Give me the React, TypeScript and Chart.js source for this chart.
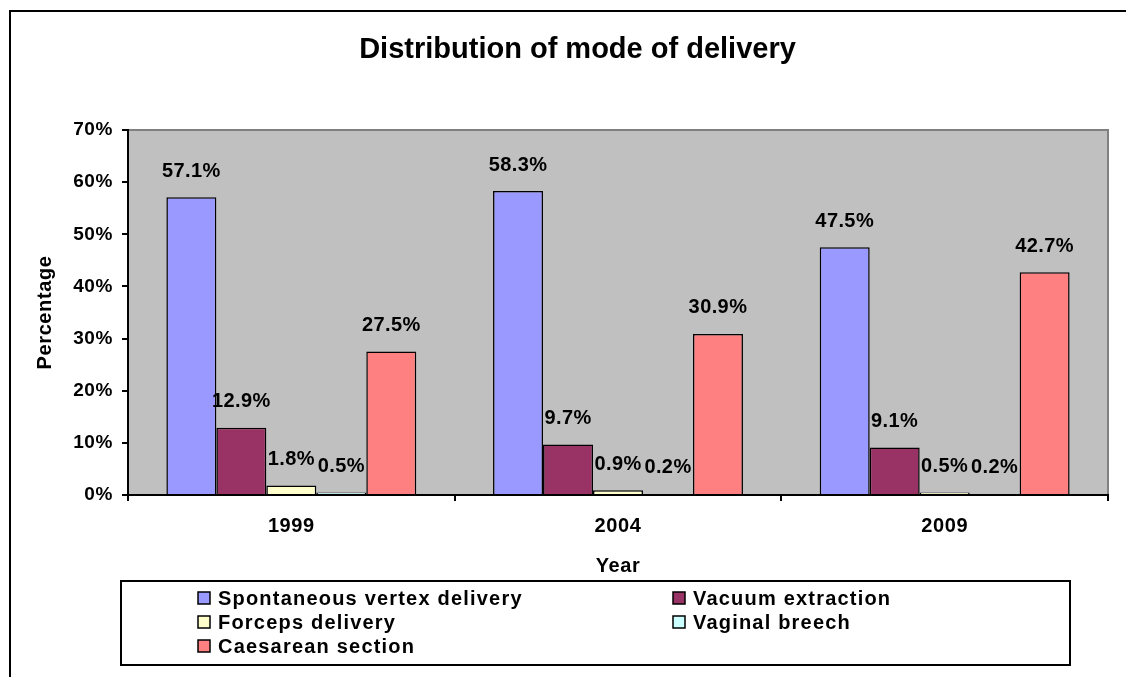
import React, { useEffect, useRef } from 'react';
import { Chart, registerables } from 'chart.js';

Chart.register(...registerables);

const years = ['1999', '2004', '2009'];
const seriesNames = [
  'Spontaneous vertex delivery',
  'Vacuum extraction',
  'Forceps delivery',
  'Vaginal breech',
  'Caesarean section',
];
const spontaneous = [57.1, 58.3, 47.5];
const vacuum = [12.9, 9.7, 9.1];
const forceps = [1.8, 0.9, 0.5];
const breech = [0.5, 0.2, 0.2];
const caesarean = [27.5, 30.9, 42.7];
const seriesColors = ['#9999FF', '#993366', '#FFFFCC', '#CCFFFF', '#FF8080'];
const yMin = 0;
const yMax = 70;
const yStep = 10;
const chartTitle = 'Distribution of mode of delivery';

const FONT = "'Liberation Sans', Arial, sans-serif";

const backgroundPlugin = {
  id: 'bgFrame',
  beforeDraw(chart: any) {
    const { ctx, chartArea } = chart;
    ctx.save();
    // outer frame
    ctx.strokeStyle = '#000';
    ctx.lineWidth = 2;
    ctx.strokeRect(10, 11, 1400, 900);
    // plot area
    ctx.fillStyle = '#C0C0C0';
    ctx.fillRect(chartArea.left, chartArea.top, chartArea.right - chartArea.left, chartArea.bottom - chartArea.top);
    ctx.strokeStyle = '#808080';
    ctx.lineWidth = 2;
    ctx.beginPath();
    ctx.moveTo(chartArea.left, chartArea.top);
    ctx.lineTo(chartArea.right, chartArea.top);
    ctx.lineTo(chartArea.right, chartArea.bottom);
    ctx.stroke();
    // title
    (ctx as any).letterSpacing = '0px';
    ctx.font = `bold 29px ${FONT}`;
    ctx.fillStyle = '#000';
    ctx.textAlign = 'center';
    ctx.textBaseline = 'middle';
    ctx.fillText(chartTitle, 577.5, 50);
    ctx.restore();
    // slightly wider text spacing for axis labels, as in the reference
    (ctx as any).letterSpacing = '0.6px';
  },
};

const dataLabelPlugin = {
  id: 'dataLabels',
  afterDatasetsDraw(chart: any) {
    const { ctx } = chart;
    ctx.save();
    ctx.font = `bold 20px ${FONT}`;
    (ctx as any).letterSpacing = '0.4px';
    ctx.fillStyle = '#000';
    ctx.textAlign = 'center';
    ctx.textBaseline = 'middle';
    chart.data.datasets.forEach((ds: any, i: number) => {
      const meta = chart.getDatasetMeta(i);
      meta.data.forEach((el: any, j: number) => {
        const v = ds.data[j];
        ctx.fillText(v.toFixed(1) + '%', el.x, el.y - 26);
      });
    });
    ctx.restore();
  },
};

const legendPlugin = {
  id: 'gridLegend',
  afterDraw(chart: any) {
    const { ctx } = chart;
    ctx.save();
    ctx.strokeStyle = '#000';
    ctx.lineWidth = 2;
    ctx.strokeRect(121, 581, 949, 84);
    const colX = [198, 673];
    const rowY = [598, 622, 646];
    ctx.font = `bold 20px ${FONT}`;
    (ctx as any).letterSpacing = '1.2px';
    ctx.textBaseline = 'middle';
    ctx.textAlign = 'left';
    chart.data.datasets.forEach((ds: any, i: number) => {
      const x = colX[i % 2];
      const y = rowY[Math.floor(i / 2)];
      ctx.fillStyle = ds.backgroundColor;
      ctx.fillRect(x, y - 6, 12, 12);
      ctx.lineWidth = 1.5;
      ctx.strokeStyle = '#000';
      ctx.strokeRect(x, y - 6, 12, 12);
      ctx.fillStyle = '#000';
      ctx.fillText(ds.label, x + 20, y + 1);
    });
    ctx.restore();
    (ctx as any).letterSpacing = '0px';
  },
};

export default function App() {
  const ref = useRef<HTMLCanvasElement>(null);

  useEffect(() => {
    if (!ref.current) return;
    const values = [spontaneous, vacuum, forceps, breech, caesarean];
    const chart = new Chart(ref.current, {
      type: 'bar',
      data: {
        labels: years,
        datasets: seriesNames.map((name, i) => ({
          label: name,
          data: values[i],
          backgroundColor: seriesColors[i],
          borderColor: '#000',
          borderWidth: 1.5,
          categoryPercentage: 0.765,
          barPercentage: 1,
        })),
      },
      options: {
        animation: false,
        responsive: false,
        devicePixelRatio: 1,
        layout: { padding: { left: 10, right: 18, top: 130, bottom: 99 } },
        plugins: {
          legend: { display: false },
          tooltip: { enabled: false },
          title: { display: false },
        },
        scales: {
          x: {
            grid: { drawOnChartArea: false, drawTicks: true, tickLength: 6, color: '#000', lineWidth: 2, offset: true },
            border: { color: '#000', width: 2 },
            ticks: { color: '#000', padding: 13, font: { family: FONT, size: 20, weight: 'bold' } },
            title: {
              display: true,
              text: 'Year',
              color: '#000',
              padding: 0,
              font: { family: FONT, size: 20, weight: 'bold' },
            },
            afterFit(scale: any) {
              scale.height = 83;
            },
          },
          y: {
            min: yMin,
            max: yMax,
            grid: { drawOnChartArea: false, drawTicks: true, tickLength: 6, color: '#000', lineWidth: 2 },
            border: { color: '#000', width: 2 },
            ticks: {
              stepSize: yStep,
              color: '#000',
              padding: 9,
              font: { family: FONT, size: 19, weight: 'bold' },
              callback: (v: any) => v + '%',
            },
            title: {
              display: true,
              text: 'Percentage',
              color: '#000',
              padding: { top: 23, bottom: 0 },
              font: { family: FONT, size: 20, weight: 'bold' },
            },
            afterFit(scale: any) {
              scale.width = 118;
            },
          },
        },
      } as any,
      plugins: [backgroundPlugin, dataLabelPlugin, legendPlugin],
    });
    return () => chart.destroy();
  }, []);

  return (
    <div style={{ position: 'fixed', left: 0, top: 0, width: 1126, height: 677, background: '#fff' }}>
      <canvas ref={ref} width={1126} height={677} style={{ width: 1126, height: 677, display: 'block' }} />
    </div>
  );
}
